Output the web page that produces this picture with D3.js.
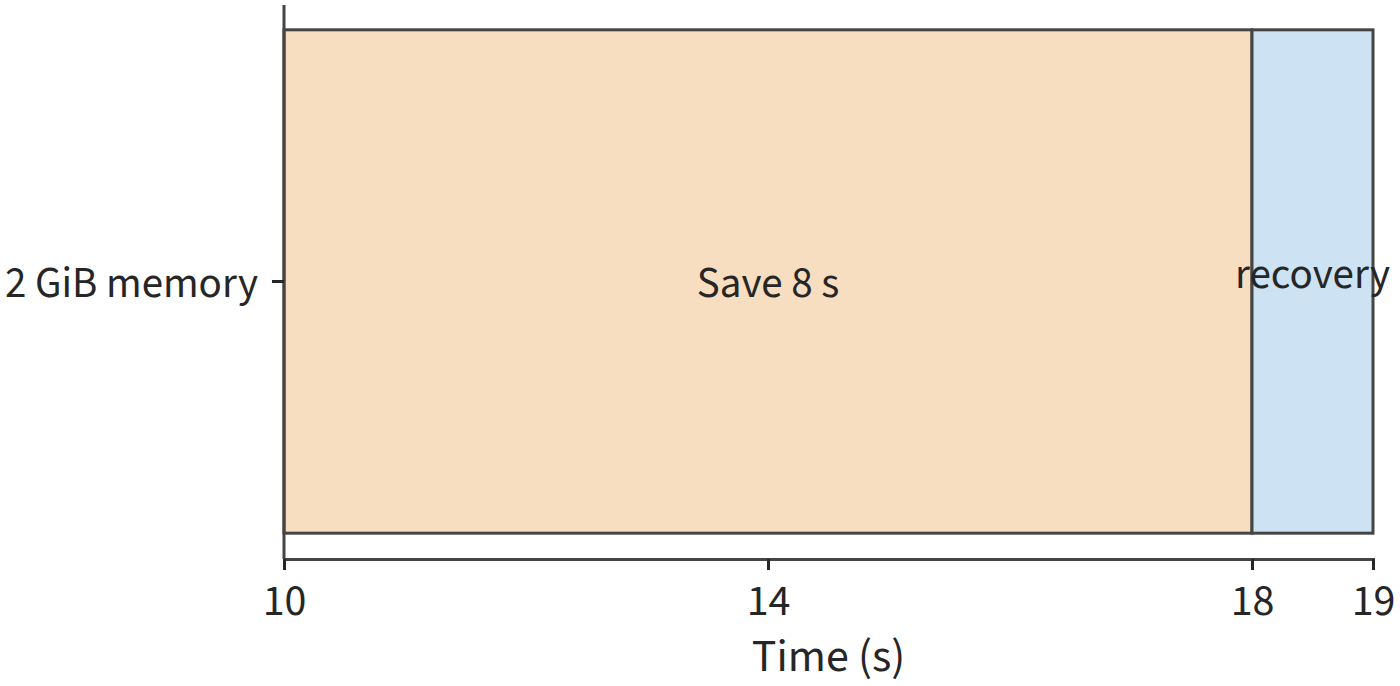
<!DOCTYPE html>
<html>
<head>
<meta charset="utf-8">
<script src="https://cdn.jsdelivr.net/npm/d3@7"></script>
<style>
  body { margin: 0; background: #fff; }
  text { font-family: "Source Sans 3", "Source Sans Pro", Lato, sans-serif; fill: #262626; }
</style>
</head>
<body>
<div id="chart"></div>
<script>
const rows = ["2 GiB memory"];
const phases = ["Save 8 s", "recovery"];
const starts = [10, 18];
const ends = [18, 19];
const fills = ["#f8dec0", "#cde3f3"];
const xTicks = [10, 14, 18, 19];

const width = 1400, height = 686;
const margin = { top: 5, right: 27, bottom: 128, left: 284 };

const svg = d3.select("#chart")
  .append("svg")
  .attr("width", width)
  .attr("height", height);

const x = d3.scaleLinear()
  .domain([10, 19])
  .range([margin.left, width - margin.right]);

const y = d3.scaleBand()
  .domain(rows)
  .range([margin.top, height - margin.bottom])
  .padding(0.047);

const lineColor = "#454545";

// bars
const data = phases.map((p, i) => ({ label: p, start: starts[i], end: ends[i], fill: fills[i], row: rows[0] }));

svg.append("g")
  .selectAll("rect")
  .data(data)
  .enter()
  .append("rect")
  .attr("x", d => x(d.start))
  .attr("y", d => y(d.row))
  .attr("width", d => x(d.end) - x(d.start))
  .attr("height", y.bandwidth())
  .attr("fill", d => d.fill)
  .attr("stroke", lineColor)
  .attr("stroke-width", 3);

// bar labels
svg.append("g")
  .selectAll("text")
  .data(data)
  .enter()
  .append("text")
  .attr("x", d => (x(d.start) + x(d.end)) / 2)
  .attr("y", (d, i) => y(d.row) + y.bandwidth() / 2 + (i === 0 ? 2 : -7))
  .attr("text-anchor", "middle")
  .attr("dominant-baseline", "central")
  .style("font-size", "43px")
  .text(d => d.label);

// x axis
const xAxis = svg.append("g")
  .attr("transform", "translate(0," + (height - margin.bottom + 1) + ")")
  .call(d3.axisBottom(x).tickValues(xTicks).tickSize(11).tickPadding(14).tickFormat(d3.format("d")));

xAxis.select(".domain").attr("stroke", lineColor).attr("stroke-width", 3);
xAxis.selectAll(".tick line").attr("stroke", "#262626").attr("stroke-width", 3);
xAxis.selectAll(".tick text").style("font-size", "44px").attr("fill", "#262626");

svg.append("text")
  .attr("x", (x(10) + x(19)) / 2)
  .attr("y", 671)
  .attr("text-anchor", "middle")
  .style("font-size", "46px")
  .text("Time (s)");

// y axis
const yAxis = svg.append("g")
  .attr("transform", "translate(" + margin.left + ",0)")
  .call(d3.axisLeft(y).tickSize(12).tickPadding(14));

yAxis.select(".domain").attr("stroke", lineColor).attr("stroke-width", 3).attr("d", "M0," + margin.top + "V" + (height - margin.bottom + 1));
yAxis.selectAll(".tick line").attr("stroke", "#262626").attr("stroke-width", 3);
yAxis.selectAll(".tick text").style("font-size", "43px").attr("fill", "#262626").attr("dy", "0.37em");
</script>
</body>
</html>
